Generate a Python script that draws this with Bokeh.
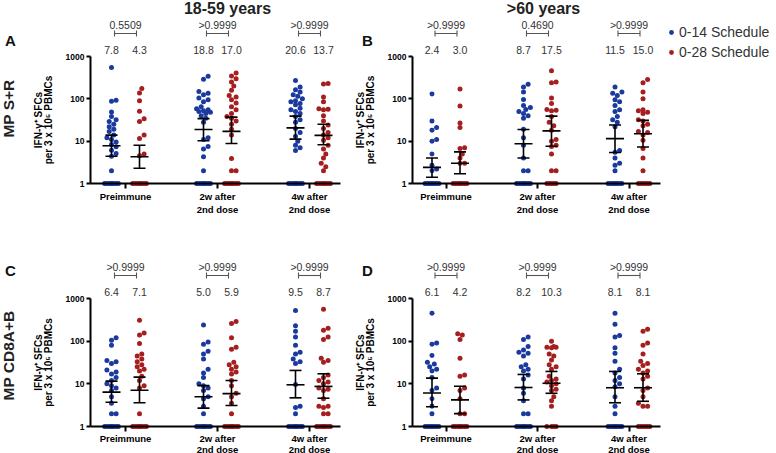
import math
from bokeh.plotting import figure
from bokeh.models import FixedTicker, Label, Legend, LegendItem, ColumnDataSource
from bokeh.layouts import column, row
from bokeh.embed import file_html
from bokeh.resources import INLINE

# ---------------- data ----------------
CATEGORIES = ["Preimmune", "2w after\n2nd dose", "4w after\n2nd dose"]
SERIES = ["0-14 Schedule", "0-28 Schedule"]
AGE_GROUPS = ["18-59 years", ">60 years"]
ANTIGENS = ["MP S+R", "MP CD8A+B"]
Y_TICKS = [1, 10, 100, 1000]
Y_LABEL_1 = "IFN-\u03b3\u207a SFCs"
Y_LABEL_2 = "per 3 x 10\u2075 PBMCs"

# Panel A : MP S+R, 18-59 years
A_PRE_014 = [550, 93, 88, 49, 38, 32, 29, 25, 22, 19, 17, 14, 12, 11, 9.6, 8.3, 7.4, 6.1, 5.1, 4.4, 2,
             1, 1, 1, 1, 1, 1, 1, 1, 1, 1]
A_PRE_028 = [175, 138, 90, 51, 34, 29, 14, 11.5, 5, 4.5, 1, 1, 1, 1, 1, 1, 1, 1, 1]
A_2W_014 = [340, 290, 150, 135, 125, 105, 95, 85, 65, 58, 55, 52, 50, 48, 45, 40, 35, 28, 12, 11, 7.5, 6.5,
            4.3, 2, 1, 1, 1, 1, 1, 1, 1, 1, 1, 1]
A_2W_028 = [410, 345, 300, 250, 200, 160, 120, 110, 95, 80, 65, 55, 45, 38, 35, 30, 25, 19, 14, 3.9, 2, 2,
            1, 1, 1, 1, 1, 1, 1, 1, 1, 1, 1, 1]
A_4W_014 = [270, 190, 165, 145, 125, 115, 100, 90, 85, 78, 72, 60, 55, 50, 45, 38, 32, 28, 20, 16, 13, 10,
            8, 7, 6, 1, 1, 1, 1, 1, 1, 1, 1, 1, 1, 1]
A_4W_028 = [230, 225, 110, 85, 58, 57, 55, 40, 30, 24, 20, 16, 14, 12, 10.5, 8, 6.5, 5, 4, 3, 2.5, 2,
            1, 1, 1, 1, 1, 1, 1, 1]
A_MED_014 = [7.8, 18.8, 20.6]
A_LO_014 = [4.4, 10.2, 11.2]
A_HI_014 = [13.9, 34, 39]
A_MED_028 = [4.3, 17.0, 13.7]
A_LO_028 = [2.3, 8.8, 8.2]
A_HI_028 = [8.0, 37, 25]
A_P = ["0.5509", ">0.9999", ">0.9999"]

# Panel B : MP S+R, >60 years
B_PRE_014 = [130, 30, 21, 18, 11, 10, 5, 2.7, 2.2, 2, 1, 1, 1, 1, 1, 1, 1, 1, 1]
B_PRE_028 = [170, 68, 27, 21, 7, 6.7, 5, 4, 3, 3, 1, 1, 1, 1, 1, 1, 1, 1, 1]
B_2W_014 = [220, 190, 145, 96, 70, 62, 56, 50, 45, 40, 35, 19, 12, 8, 4, 2, 2, 1, 1, 1, 1, 1, 1, 1, 1, 1]
B_2W_028 = [460, 250, 240, 105, 78, 56, 54, 52, 38, 28, 23, 18, 11, 10, 8, 7.5, 5, 2, 2, 1, 1, 1, 1, 1]
B_4W_014 = [190, 145, 135, 120, 95, 85, 70, 55, 50, 38, 32, 28, 22, 6, 5.5, 4, 3, 2.7, 2,
            1, 1, 1, 1, 1, 1, 1, 1]
B_4W_028 = [285, 240, 145, 100, 55, 52, 48, 45, 32, 30, 25, 23, 17, 16, 14, 10.5, 6.7, 4, 2,
            1, 1, 1, 1, 1, 1]
B_MED_014 = [2.4, 8.7, 11.5]
B_LO_014 = [1.4, 4.0, 5.4]
B_HI_014 = [4.0, 18.9, 24]
B_MED_028 = [3.0, 17.5, 15.0]
B_LO_028 = [1.7, 7.6, 7.3]
B_HI_028 = [5.6, 39, 31]
B_P = [">0.9999", "0.4690", ">0.9999"]

# Panel C : MP CD8A+B, 18-59 years
C_PRE_014 = [120, 105, 80, 35, 33, 30, 21, 19, 17, 14, 12, 10, 9, 8, 7, 5, 3.5, 2, 2,
             1, 1, 1, 1, 1, 1, 1, 1, 1, 1]
C_PRE_028 = [310, 155, 140, 88, 50, 45, 38, 33, 28, 25, 22, 20, 15, 12, 9, 8, 2,
             1, 1, 1, 1, 1, 1, 1, 1, 1, 1, 1, 1]
C_2W_014 = [240, 95, 85, 58, 50, 38, 22, 18, 14, 10, 9, 8, 7, 5, 4.5, 3, 2,
            1, 1, 1, 1, 1, 1, 1, 1, 1, 1, 1, 1]
C_2W_028 = [290, 260, 120, 72, 65, 32, 28, 25, 22, 19, 17, 12, 9, 6, 5, 3.5, 2,
            1, 1, 1, 1, 1, 1, 1, 1, 1, 1, 1, 1, 1, 1]
C_4W_014 = [520, 230, 170, 125, 80, 55, 50, 38, 33, 30, 9.6, 3, 2.8, 2,
            1, 1, 1, 1, 1, 1, 1, 1, 1, 1, 1, 1]
C_4W_028 = [560, 200, 180, 125, 110, 40, 35, 32, 16, 14, 12, 11, 10, 8, 7.5, 7, 4.5, 3, 3, 2.8, 2, 2,
            1, 1, 1, 1, 1, 1, 1, 1, 1, 1, 1, 1]
C_MED_014 = [6.4, 5.0, 9.5]
C_LO_014 = [3.7, 2.7, 4.7]
C_HI_014 = [11.6, 9.1, 20.6]
C_MED_028 = [7.1, 5.9, 8.7]
C_LO_028 = [3.6, 3.1, 4.6]
C_HI_028 = [14.4, 12, 17.2]
C_P = [">0.9999", ">0.9999", ">0.9999"]

# Panel D : MP CD8A+B, >60 years
D_PRE_014 = [450, 90, 85, 46, 32, 29, 25, 22, 20, 14, 8, 7, 4.5, 3, 2, 1, 1, 1, 1, 1, 1, 1, 1]
D_PRE_028 = [150, 140, 110, 40, 16, 15, 8, 7, 4.5, 2, 2, 1, 1, 1, 1, 1, 1, 1, 1, 1, 1]
D_2W_014 = [125, 110, 75, 62, 55, 52, 45, 28, 25, 22, 20, 16, 13, 8, 6, 4, 2, 2, 1, 1, 1, 1, 1, 1, 1, 1]
D_2W_028 = [100, 75, 72, 72, 70, 50, 45, 36, 28, 25, 22, 15, 13, 12, 11, 10, 9, 7.5, 7, 5, 4, 3,
            1, 1, 1, 1]
D_4W_014 = [450, 250, 135, 125, 70, 52, 34, 22, 18, 14, 12, 10, 8.5, 5, 3, 2,
            1, 1, 1, 1, 1, 1, 1, 1, 1, 1, 1]
D_4W_028 = [190, 170, 90, 80, 50, 34, 30, 27, 22, 20, 18, 15, 13, 8, 7, 5, 3.5, 3, 3, 1, 1, 1, 1, 1, 1]
D_MED_014 = [6.1, 8.2, 8.1]
D_LO_014 = [2.9, 4.2, 3.6]
D_HI_014 = [13.6, 16.6, 19.5]
D_MED_028 = [4.2, 10.3, 8.1]
D_LO_028 = [2.0, 6.0, 3.9]
D_HI_028 = [8.8, 19.5, 17.2]
D_P = [">0.9999", ">0.9999", ">0.9999"]

PANELS = {
    "A": dict(s014=[A_PRE_014, A_2W_014, A_4W_014], s028=[A_PRE_028, A_2W_028, A_4W_028],
              med014=A_MED_014, lo014=A_LO_014, hi014=A_HI_014,
              med028=A_MED_028, lo028=A_LO_028, hi028=A_HI_028, p=A_P),
    "B": dict(s014=[B_PRE_014, B_2W_014, B_4W_014], s028=[B_PRE_028, B_2W_028, B_4W_028],
              med014=B_MED_014, lo014=B_LO_014, hi014=B_HI_014,
              med028=B_MED_028, lo028=B_LO_028, hi028=B_HI_028, p=B_P),
    "C": dict(s014=[C_PRE_014, C_2W_014, C_4W_014], s028=[C_PRE_028, C_2W_028, C_4W_028],
              med014=C_MED_014, lo014=C_LO_014, hi014=C_HI_014,
              med028=C_MED_028, lo028=C_LO_028, hi028=C_HI_028, p=C_P),
    "D": dict(s014=[D_PRE_014, D_2W_014, D_4W_014], s028=[D_PRE_028, D_2W_028, D_4W_028],
              med014=D_MED_014, lo014=D_LO_014, hi014=D_HI_014,
              med028=D_MED_028, lo028=D_LO_028, hi028=D_HI_028, p=D_P),
}

# ---------------- styling / layout ----------------
BLUE = "#1b3a9e"
RED = "#a61f1f"
FONT = "Liberation Sans"
TXT = "#333333"

# pixel geometry of each panel (page pixels)
GEO = {
    "A": dict(x0=0, y0=0, W=350, H=232, axis_x=90, xend=340, c0=125.0, ppu=92.0, y1000=56, y1=183, lh=1.2),
    "B": dict(x0=350, y0=0, W=426, H=232, axis_x=412, xend=660, c0=445.5, ppu=91.5, y1000=56, y1=183, lh=1.2),
    "C": dict(x0=0, y0=232, W=350, H=221, axis_x=90, xend=340, c0=125.0, ppu=92.0, y1000=298, y1=426, lh=1.0),
    "D": dict(x0=350, y0=232, W=426, H=221, axis_x=412, xend=660, c0=445.5, ppu=91.5, y1000=298, y1=426, lh=1.0),
}
SERIES_OFF = -14.0, 14.0   # px offset of each schedule column from category center
DOT = 5


def swarm(values, decade, d=4.6, maxw=8.0):
    step = d / 2.0
    cands = [0.0]
    k = 1
    while k * step <= maxw + 1e-9:
        cands += [k * step, -k * step]
        k += 1
    placed = []
    out = [0.0] * len(values)
    order = sorted(range(len(values)), key=lambda i: values[i])
    for i in order:
        y = -decade * math.log10(values[i])
        best, bestscore = None, -1.0
        for c in cands:
            md = min((math.hypot(c - px, y - py) for py, px in placed), default=1e9)
            if md >= d:
                best = c
                break
            if md > bestscore + 1e-9:
                bestscore, best = md, c
        placed.append((y, best))
        out[i] = best
    return out


def lab(p, g, text, rx, ry, size, bold=False, angle=0.0, color=TXT, align="center"):
    p.add_layout(Label(x=rx - g["x0"], y=g["H"] - (ry - g["y0"]), x_units="screen", y_units="screen",
                       text=text, angle=angle, text_align=align, text_baseline="middle",
                       text_font=FONT, text_font_size=size, text_color=color,
                       text_font_style="bold" if bold else "normal"))


def build(key):
    g = GEO[key]
    dat = PANELS[key]
    ppu, c0 = g["ppu"], g["c0"]
    dec = (g["y1"] - g["y1000"]) / 3.0
    xs = (g["x0"] - c0) / ppu
    xe = (g["x0"] + g["W"] - c0) / ppu
    ytop = 3 + (g["y1000"] - g["y0"]) / dec
    ybot = -((g["y0"] + g["H"]) - g["y1"]) / dec

    def yd(py):
        return 10 ** ((g["y1"] - py) / dec)

    p = figure(width=g["W"], height=g["H"], x_range=(xs, xe), y_range=(10 ** ybot, 10 ** ytop),
               y_axis_type="log", output_backend="svg", toolbar_location=None, title=None,
               min_border_left=0, min_border_right=0, min_border_top=0, min_border_bottom=0)
    p.outline_line_color = None
    p.xgrid.visible = False
    p.ygrid.visible = False
    p.background_fill_color = "white"
    p.border_fill_color = "white"

    renderers = []
    seg = dict(x0=[], y0=[], x1=[], y1=[])
    br = dict(x0=[], y0=[], x1=[], y1=[])
    for si, (series, meds, los, his, col) in enumerate([
            (dat["s014"], dat["med014"], dat["lo014"], dat["hi014"], BLUE),
            (dat["s028"], dat["med028"], dat["lo028"], dat["hi028"], RED)]):
        xs_pts, ys_pts = [], []
        for k, vals in enumerate(series):
            cx = k + SERIES_OFF[si] / ppu
            offs = swarm(vals, dec)
            xs_pts += [cx + o / ppu for o in offs]
            ys_pts += list(vals)
            m, lo, hi = meds[k], los[k], his[k]
            w, cw = 9.0 / ppu, 6.0 / ppu
            for a, b, c, d_ in [(cx - w, m, cx + w, m), (cx, lo, cx, hi),
                                (cx - cw, lo, cx + cw, lo), (cx - cw, hi, cx + cw, hi)]:
                seg["x0"].append(a); seg["y0"].append(b); seg["x1"].append(c); seg["y1"].append(d_)
            # median value text
            p.add_layout(Label(x=cx, x_units="data", y=g["H"] - (g["y1000"] - 7 - g["y0"]), y_units="screen",
                               text="%.1f" % m, text_align="center", text_baseline="middle",
                               text_font=FONT, text_font_size="10.5px", text_color=TXT))
        src = ColumnDataSource(dict(x=xs_pts, y=ys_pts))
        r = p.scatter("x", "y", source=src, size=DOT, fill_color=col, line_color=None)
        renderers.append(r)

    p.segment("x0", "y0", "x1", "y1", source=ColumnDataSource(seg), line_color="black", line_width=1.6)

    # p-value brackets
    ybr = g["y1000"] - 23
    for k in range(3):
        xa = k + (SERIES_OFF[0] + 3) / ppu
        xb = k + (SERIES_OFF[1] - 3) / ppu
        for a, b, c, d_ in [(xa, yd(ybr), xb, yd(ybr)), (xa, yd(ybr - 3), xa, yd(ybr + 3)),
                            (xb, yd(ybr - 3), xb, yd(ybr + 3))]:
            br["x0"].append(a); br["y0"].append(b); br["x1"].append(c); br["y1"].append(d_)
        p.add_layout(Label(x=k, x_units="data", y=g["H"] - (g["y1000"] - 32 - g["y0"]), y_units="screen",
                           text=dat["p"][k], text_align="center", text_baseline="middle",
                           text_font=FONT, text_font_size="10.5px", text_color=TXT))
    p.segment("x0", "y0", "x1", "y1", source=ColumnDataSource(br), line_color="#555555", line_width=1.1)

    # axes
    ya = p.yaxis[0]
    ya.ticker = FixedTicker(ticks=Y_TICKS, minor_ticks=[])
    ya.major_label_overrides = {t: str(t) for t in Y_TICKS}
    ya.bounds = (1, 1000)
    ya.fixed_location = (g["axis_x"] - c0) / ppu
    xa_ = p.xaxis[0]
    xa_.ticker = FixedTicker(ticks=[0, 1, 2], minor_ticks=[])
    xa_.major_label_overrides = {i: c for i, c in enumerate(CATEGORIES)}
    xa_.bounds = ((g["axis_x"] - c0) / ppu, (g["xend"] - c0) / ppu)
    xa_.fixed_location = 1
    for ax in (ya, xa_):
        ax.axis_line_width = 2
        ax.axis_line_color = "black"
        ax.major_tick_line_width = 2
        ax.major_tick_line_color = "black"
        ax.major_tick_in = 0
        ax.minor_tick_in = 0
        ax.minor_tick_out = 0
        ax.major_label_text_font = FONT
        ax.major_label_text_font_style = "bold"
        ax.major_label_text_color = "black"
    ya.major_tick_out = 4
    ya.major_label_standoff = 2
    ya.major_label_text_font_size = "8.5px"
    xa_.major_tick_out = 5
    xa_.major_label_standoff = 2 if g["lh"] > 1.1 else 1
    xa_.major_label_text_font_size = "9.5px"
    xa_.major_label_text_line_height = g["lh"]

    # y axis title (two lines, rotated)
    ymid = (g["y1000"] + g["y1"]) / 2.0
    lab(p, g, Y_LABEL_1, g["axis_x"] - 52, ymid, "10px", bold=True, angle=math.pi / 2, color="black")
    lab(p, g, Y_LABEL_2, g["axis_x"] - 42, ymid, "10px", bold=True, angle=math.pi / 2, color="black")
    # panel letter
    lab(p, g, key, 10 if key in "AC" else 367, 40 if key in "AB" else 270,
        "15px", bold=True, color="#111111")
    return p, renderers


pA, rA = build("A")
pB, rB = build("B")
pC, rC = build("C")
pD, rD = build("D")

# column titles
lab(pA, GEO["A"], AGE_GROUPS[0], 227, 7.5, "16px", bold=True, color="#222222")
lab(pB, GEO["B"], AGE_GROUPS[1], 543, 7.5, "16px", bold=True, color="#222222")
# row titles
lab(pA, GEO["A"], ANTIGENS[0], 8, 108, "15.5px", bold=True, angle=math.pi / 2, color="#222222")
lab(pC, GEO["C"], ANTIGENS[1], 8, 355, "15.5px", bold=True, angle=math.pi / 2, color="#222222")

# legend
legend = Legend(items=[LegendItem(label=SERIES[0], renderers=[rB[0]]),
                       LegendItem(label=SERIES[1], renderers=[rB[1]])],
                location=(665 - GEO["B"]["x0"], GEO["B"]["H"] - (62 - GEO["B"]["y0"])),
                orientation="vertical", glyph_width=12, glyph_height=20, label_height=20,
                label_standoff=2, spacing=0, padding=0, margin=0,
                border_line_alpha=0, background_fill_alpha=0,
                label_text_font=FONT, label_text_font_size="14px", label_text_color=TXT)
pB.add_layout(legend)

layout = column(row(pA, pB), row(pC, pD))
open("out.html", "w").write(file_html(layout, INLINE))
